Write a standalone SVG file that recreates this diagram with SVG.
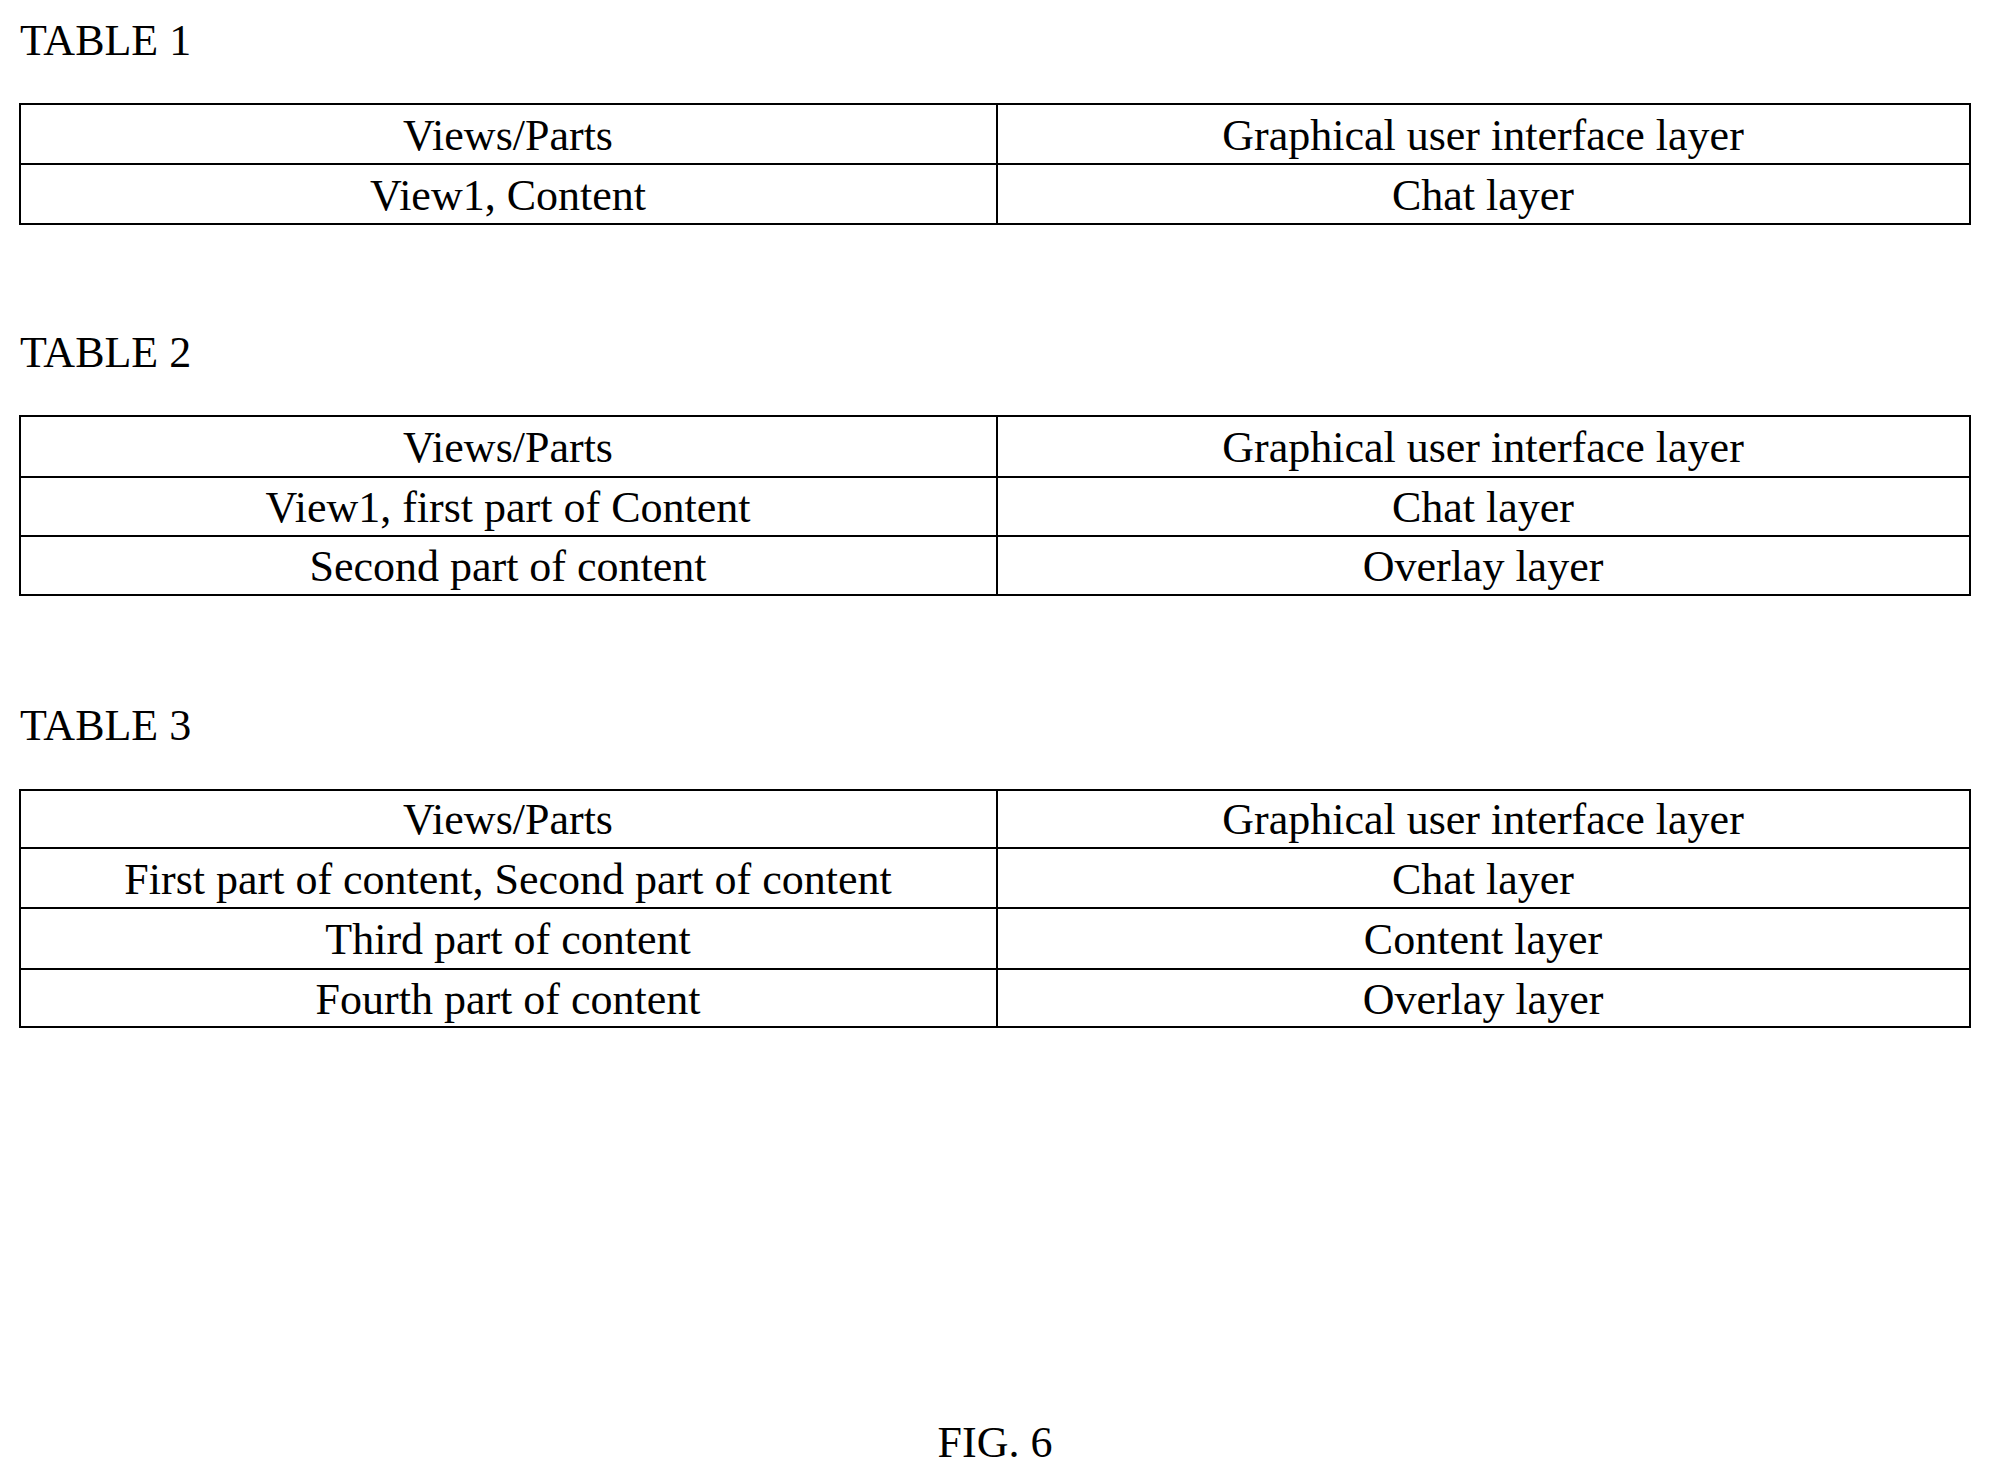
<svg xmlns="http://www.w3.org/2000/svg" width="1990" height="1476" viewBox="0 0 1990 1476">
<style>
text{font-family:"Liberation Serif","Times New Roman",serif;font-size:44px;fill:#000}
.c{text-anchor:middle}
.t{fill:none;stroke:#000;stroke-width:2}
</style>
<rect width="1990" height="1476" fill="#fff"/>
<text x="20" y="55">TABLE 1</text>
<g id="table1">
<rect class="t" x="20" y="104" width="1950" height="120"/>
<path class="t" d="M997 104V224M20 164H1970"/>
<text class="c" x="508" y="150">Views/Parts</text>
<text class="c" x="1483" y="150">Graphical user interface layer</text>
<text class="c" x="508" y="210">View1, Content</text>
<text class="c" x="1483" y="210">Chat layer</text>
</g>
<text x="20" y="367">TABLE 2</text>
<g id="table2">
<rect class="t" x="20" y="416" width="1950" height="179"/>
<path class="t" d="M997 416V595M20 477H1970M20 536H1970"/>
<text class="c" x="508" y="462">Views/Parts</text>
<text class="c" x="1483" y="462">Graphical user interface layer</text>
<text class="c" x="508" y="522">View1, first part of Content</text>
<text class="c" x="1483" y="522">Chat layer</text>
<text class="c" x="508" y="581">Second part of content</text>
<text class="c" x="1483" y="581">Overlay layer</text>
</g>
<text x="20" y="740">TABLE 3</text>
<g id="table3">
<rect class="t" x="20" y="790" width="1950" height="237"/>
<path class="t" d="M997 790V1027M20 848H1970M20 908H1970M20 969H1970"/>
<text class="c" x="508" y="834">Views/Parts</text>
<text class="c" x="1483" y="834">Graphical user interface layer</text>
<text class="c" x="508" y="894">First part of content, Second part of content</text>
<text class="c" x="1483" y="894">Chat layer</text>
<text class="c" x="508" y="954">Third part of content</text>
<text class="c" x="1483" y="954">Content layer</text>
<text class="c" x="508" y="1014">Fourth part of content</text>
<text class="c" x="1483" y="1014">Overlay layer</text>
</g>
<text class="c" x="995" y="1457">FIG. 6</text>
</svg>
